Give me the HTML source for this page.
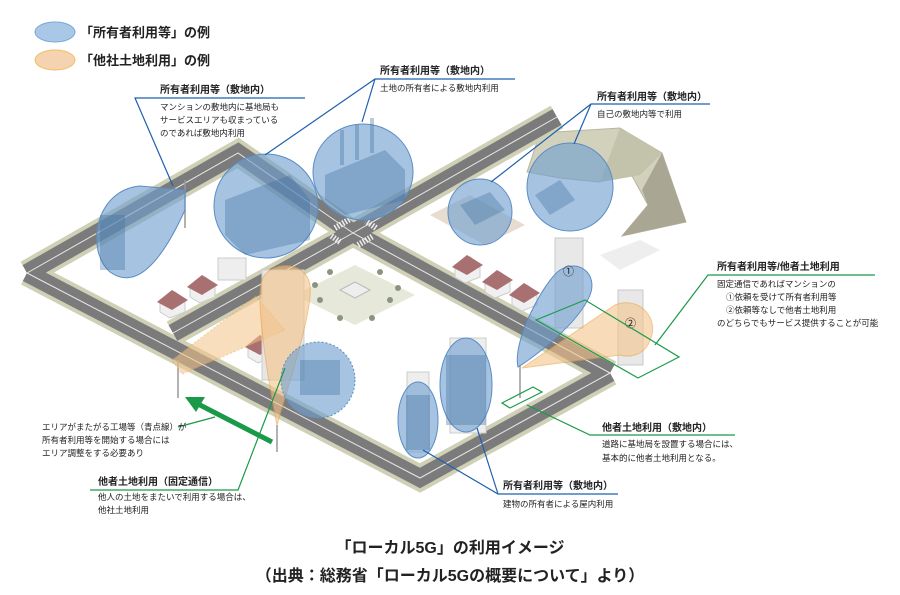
<!DOCTYPE html>
<html><head><meta charset="utf-8"><style>
html,body{margin:0;padding:0;background:#fff;}
svg{display:block;font-family:"Liberation Sans","Noto Sans CJK JP",sans-serif;}
.lb{font-size:10px;font-weight:bold;fill:#222;}
.sm{font-size:8.5px;fill:#222;}
</style></head><body>
<svg width="900" height="595" viewBox="0 0 900 595" xmlns="http://www.w3.org/2000/svg">
<!-- legend -->
<ellipse cx="55" cy="32" rx="20" ry="10" fill="#a9c8e8" stroke="#7aa6d6"/>
<ellipse cx="55" cy="60" rx="20" ry="10" fill="#f6d3b0" stroke="#f0c060"/>
<text x="80" y="37" style="font-size:13px;font-weight:bold" fill="#222">「所有者利用等」の例</text>
<text x="80" y="65" style="font-size:13px;font-weight:bold" fill="#222">「他社土地利用」の例</text>

<!-- mountain -->
<polygon points="527,172 540,133 620,128 662,153 686,222 622,236 648,205 632,176 598,182 560,178" fill="#d2d1bb" stroke="#b8b6a0"/>
<polygon points="622,236 686,222 662,153 642,190 648,205" fill="#a9a793"/>
<polygon points="600,182 640,175 662,153 620,128" fill="#c3c2aa"/>

<!-- lot areas -->
<polygon points="430,215 470,195 525,225 485,245" fill="#e6dcd0"/>
<polygon points="600,255 640,240 660,250 620,270" fill="#eee"/>

<!-- roads -->
<g fill="none" stroke-linejoin="miter">
<g stroke="#cfd0b6" stroke-width="26">
<polyline points="27,273 238,153 353,233 610,373"/>
<polyline points="27,273 420,478 610,373"/>
<polyline points="173,333 353,233 557,117"/>
</g>
<g stroke="#7b7b7b" stroke-width="18">
<polyline points="27,273 238,153 353,233 610,373"/>
<polyline points="27,273 420,478 610,373"/>
<polyline points="173,333 353,233 557,117"/>
</g>
<g stroke="#e8e8e8" stroke-width="1">
<polyline points="27,273 238,153 353,233 610,373"/>
<polyline points="27,273 420,478 610,373"/>
<polyline points="173,333 353,233 557,117"/>
</g>
</g>
<!-- crosswalks -->
<g stroke="#eee" stroke-width="6" stroke-dasharray="1.5 1.5" fill="none">
<line x1="335" y1="228" x2="350" y2="219"/><line x1="358" y1="245" x2="373" y2="236"/>
<line x1="340" y1="242" x2="330" y2="235"/><line x1="376" y1="228" x2="366" y2="221"/>
</g>
<!-- plaza -->
<polygon points="355,265 415,295 355,325 295,295" fill="#d6d8c0" opacity="0.6"/>
<polygon points="340,290 355,282 370,290 355,298" fill="#eee" stroke="#bbb"/>
<g fill="#8a9580">
<circle cx="330" cy="272" r="3"/><circle cx="380" cy="272" r="3"/><circle cx="320" cy="300" r="3"/><circle cx="390" cy="300" r="3"/><circle cx="340" cy="318" r="3"/><circle cx="372" cy="318" r="3"/><circle cx="315" cy="285" r="3"/><circle cx="398" cy="288" r="3"/>
</g>

<!-- houses -->
<g>
<polygon points="160,300 175,292 185,300 185,312 170,318 160,312" fill="#f0f0f0" stroke="#ccc"/><polygon points="157,302 172,290 188,300 172,310" fill="#a87070"/>
<polygon points="190,285 205,277 215,285 215,297 200,303 190,297" fill="#f0f0f0" stroke="#ccc"/><polygon points="187,287 202,275 218,285 202,295" fill="#a87070"/>
<rect x="218" y="258" width="28" height="22" fill="#eee" stroke="#ccc"/>
<polygon points="455,265 470,257 480,265 480,277 465,283 455,277" fill="#f0f0f0" stroke="#ccc"/><polygon points="452,267 467,255 483,265 467,275" fill="#a87070"/>
<polygon points="485,280 500,272 510,280 510,292 495,298 485,292" fill="#f0f0f0" stroke="#ccc"/><polygon points="482,282 497,270 513,280 497,290" fill="#a87070"/>
<polygon points="512,293 527,285 537,293 537,305 522,311 512,305" fill="#f0f0f0" stroke="#ccc"/><polygon points="509,295 524,283 540,293 524,303" fill="#a87070"/>
<polygon points="248,345 263,337 273,345 273,357 258,363 248,357" fill="#f0f0f0" stroke="#ccc"/><polygon points="245,347 260,335 276,345 260,355" fill="#a87070"/>
</g>
<!-- towers -->
<rect x="555" y="238" width="28" height="90" fill="#e8e8e8" stroke="#c8c8c8"/>
<rect x="618" y="290" width="25" height="75" fill="#e8e8e8" stroke="#c8c8c8"/>
<rect x="407" y="372" width="22" height="80" fill="#eee" stroke="#ccc"/>
<rect x="450" y="338" width="36" height="95" fill="#eee" stroke="#ccc"/>
<rect x="262" y="270" width="42" height="110" fill="#e6e6e6" stroke="#ccc"/>

<!-- antennas -->
<g stroke="#999" stroke-width="1.5">
<line x1="185" y1="180" x2="185" y2="228"/><line x1="178" y1="360" x2="178" y2="398"/>
<line x1="277" y1="425" x2="277" y2="452"/><line x1="520" y1="365" x2="520" y2="398"/>
</g>

<!-- orange beams -->
<polygon points="172,360 256,296 285,330 182,374" fill="#f5c48a" opacity="0.55" stroke="#e8a040" stroke-dasharray="2 2"/>
<path d="M277,425 C268,380 255,300 262,280 C268,262 305,258 310,285 C313,310 290,380 277,425 Z" fill="#f5c48a" opacity="0.6" stroke="#e8a040"/>
<path d="M522,368 L615,305 C640,295 660,320 650,340 C645,355 630,358 620,355 Z" fill="#f5c48a" opacity="0.6" stroke="#e8a040"/>

<!-- blue bubbles -->
<g fill="#6f9fd0" fill-opacity="0.62" stroke="#5a8cc4" stroke-width="1">
<path d="M185,190 L140,186 C95,190 85,250 110,272 C135,290 160,265 185,210 Z"/>
<ellipse cx="266" cy="206" rx="52" ry="52"/>
<ellipse cx="363" cy="172" rx="50" ry="48"/>
<ellipse cx="480" cy="212" rx="32" ry="33"/>
<ellipse cx="570" cy="187" rx="43" ry="44"/>
<ellipse cx="318" cy="380" rx="37" ry="38" stroke-dasharray="2 2"/>
<ellipse cx="418" cy="420" rx="20" ry="38"/>
<ellipse cx="466" cy="385" rx="26" ry="47"/>
<path d="M518,367 C512,340 545,280 560,270 C580,258 598,275 590,295 C578,325 530,360 518,367 Z"/>
</g>
<!-- building hints inside bubbles -->
<g fill="#3f6f9f" opacity="0.35">
<rect x="100" y="215" width="25" height="55"/>
<polygon points="225,200 290,175 310,200 310,240 245,255 225,235"/>
<polygon points="325,175 385,150 405,170 405,200 345,215 325,200"/>
<rect x="340" y="130" width="4" height="35"/><rect x="355" y="125" width="4" height="35"/><rect x="370" y="118" width="4" height="35"/>
<polygon points="460,205 490,192 505,210 475,225"/>
<polygon points="535,195 560,180 575,200 550,215"/>
<rect x="300" y="360" width="40" height="35"/>
<rect x="406" y="395" width="24" height="55"/>
<rect x="446" y="355" width="40" height="70"/>
</g>
<text x="563" y="275" class="sm" style="font-size:11px">①</text>
<text x="625" y="327" class="sm" style="font-size:11px">②</text>

<!-- green shapes -->
<polygon points="536,320 585,300 679,357 638,378" fill="none" stroke="#1a9a48" stroke-width="1.2"/>
<polygon points="502,403 533,387 542,392 510,408" fill="none" stroke="#1a9a48" stroke-width="1.2"/>
<line x1="272" y1="442" x2="198" y2="404" stroke="#1a9a48" stroke-width="5"/>
<polygon points="185,397 205,397 196,412" fill="#1a9a48"/>

<!-- callout lines -->
<g fill="none" stroke-width="1.2">
<polyline points="305,98 135,98 173,186" stroke="#1f5fb0"/>
<polyline points="515,79 375,79 265,155" stroke="#1f5fb0"/>
<line x1="375" y1="79" x2="362" y2="122" stroke="#1f5fb0"/>
<polyline points="710,104 591,104 491,182" stroke="#1f5fb0"/>
<line x1="591" y1="104" x2="574" y2="144" stroke="#1f5fb0"/>
<polyline points="618,494 498,494 423,450" stroke="#1f5fb0"/>
<line x1="498" y1="494" x2="477" y2="428" stroke="#1f5fb0"/>
<polyline points="875,275 708,275 655,345" stroke="#1a9a48"/>
<polyline points="735,435 590,435 527,405" stroke="#1a9a48"/>
<polyline points="90,490 238,490 285,368" stroke="#1a9a48"/>
<line x1="178" y1="427" x2="215" y2="417" stroke="#1a9a48"/>
</g>

<!-- labels -->
<text x="160" y="93" class="lb">所有者利用等（敷地内）</text>
<text x="160" y="110" class="sm">マンションの敷地内に基地局も</text>
<text x="160" y="123" class="sm">サービスエリアも収まっている</text>
<text x="160" y="136" class="sm">のであれば敷地内利用</text>

<text x="380" y="74" class="lb">所有者利用等（敷地内）</text>
<text x="380" y="91" class="sm">土地の所有者による敷地内利用</text>

<text x="597" y="100" class="lb">所有者利用等（敷地内）</text>
<text x="597" y="117" class="sm">自己の敷地内等で利用</text>

<text x="717" y="270" class="lb">所有者利用等/他者土地利用</text>
<text x="717" y="287" class="sm">固定通信であればマンションの</text>
<text x="726" y="300" class="sm">①依頼を受けて所有者利用等</text>
<text x="726" y="313" class="sm">②依頼等なしで他者土地利用</text>
<text x="717" y="326" class="sm">のどちらでもサービス提供することが可能</text>

<text x="602" y="431" class="lb">他者土地利用（敷地内）</text>
<text x="602" y="447" class="sm">道路に基地局を設置する場合には、</text>
<text x="602" y="461" class="sm">基本的に他者土地利用となる。</text>

<text x="503" y="489" class="lb">所有者利用等（敷地内）</text>
<text x="503" y="507" class="sm">建物の所有者による屋内利用</text>

<text x="42" y="430" class="sm">エリアがまたがる工場等（青点線）が</text>
<text x="42" y="443" class="sm">所有者利用等を開始する場合には</text>
<text x="42" y="456" class="sm">エリア調整をする必要あり</text>

<text x="98" y="485" class="lb">他者土地利用（固定通信）</text>
<text x="98" y="500" class="sm">他人の土地をまたいで利用する場合は、</text>
<text x="98" y="513" class="sm">他社土地利用</text>

<text x="450" y="553" text-anchor="middle" style="font-size:16px;font-weight:bold" fill="#222">「ローカル5G」の利用イメージ</text>
<text x="450" y="581" text-anchor="middle" style="font-size:16px;font-weight:bold" fill="#222">（出典：総務省「ローカル5Gの概要について」より）</text>
</svg>
</body></html>
